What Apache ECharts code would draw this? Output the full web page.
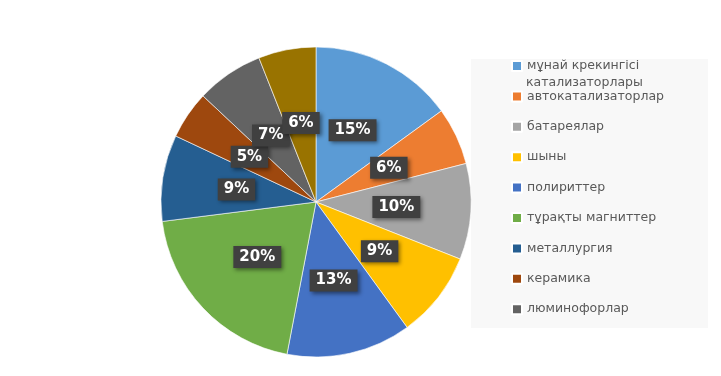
<!DOCTYPE html>
<html lang="kk">
<head>
<meta charset="UTF-8">
<title>pie</title>
<style>
  html, body { margin: 0; padding: 0; background: #fff; }
</style>
</head>
<body>
<div id="main" style="width: 721px;height: 376px;"></div>
<script src="https://cdn.jsdelivr.net/npm/echarts@6/dist/echarts.min.js"></script>
<script type="text/javascript">

    // slice names (clockwise from 12 o'clock) and their shares, %
    var names = [
        'мұнай крекингісі катализаторлары',
        'автокатализаторлар',
        'батареялар',
        'шыны',
        'полириттер',
        'тұрақты магниттер',
        'металлургия',
        'керамика',
        'люминофорлар',
        'басқалары'
    ];
    var values = [15, 6, 10, 9, 13, 20, 9, 5, 7, 6];

    // only the first nine fit into the legend box
    var legendNames = names.slice(0, 9);

    var colors = ['#5B9BD5', '#ED7D31', '#A5A5A5', '#FFC000', '#4472C4',
                  '#70AD47', '#255E91', '#9E480E', '#636363', '#997300'];

    var data = [];
    for (var i = 0; i < names.length; i++) {
        data.push({ name: names[i], value: values[i] });
    }

    var option = {
        backgroundColor: '#fff',
        animation: false,
        color: colors,
        graphic: [
            {
                // legend panel
                type: 'rect',
                left: 471, top: 59,
                shape: { width: 237, height: 269 },
                style: { fill: '#f8f8f8' },
                z: 0
            },
            {
                // wrapped second line of the first legend entry
                type: 'text',
                left: 526, top: 76,
                style: {
                    text: 'катализаторлары',
                    fill: '#595959',
                    font: '12.5px "DejaVu Sans"'
                },
                z: 10
            }
        ],
        legend: {
            orient: 'vertical',
            left: 511,
            top: 58,
            padding: 0,
            data: legendNames,
            icon: 'rect',
            itemWidth: 10,
            itemHeight: 10,
            itemGap: 14.4,
            selectedMode: false,
            formatter: function (name) {
                return name === names[0] ? 'мұнай крекингісі' : name;
            },
            textStyle: {
                color: '#595959',
                fontSize: 12.5,
                fontFamily: 'DejaVu Sans',
                lineHeight: 16
            },
            z: 10
        },
        series: [{
            type: 'pie',
            center: [316, 202],
            radius: 155,
            startAngle: 90,
            clockwise: true,
            avoidLabelOverlap: false,
            labelLayout: { hideOverlap: false },
            itemStyle: {
                borderColor: '#ffffff',
                borderWidth: 0.6
            },
            label: {
                show: true,
                position: 'inside',
                formatter: '{c}%',
                color: '#ffffff',
                fontFamily: 'DejaVu Sans',
                fontWeight: 'bold',
                fontSize: 15,
                backgroundColor: '#404040',
                padding: [4, 6, 3, 6],
                shadowColor: 'rgba(0,0,0,0.45)',
                shadowBlur: 4,
                shadowOffsetX: 2,
                shadowOffsetY: 2
            },
            labelLine: { show: false },
            emphasis: { disabled: true },
            data: data
        }]
    };

    var myChart = echarts.init(document.getElementById('main'));
    myChart.setOption(option);
    window.onresize = function () {
        myChart.resize();
    };
</script>
</body>
</html>
